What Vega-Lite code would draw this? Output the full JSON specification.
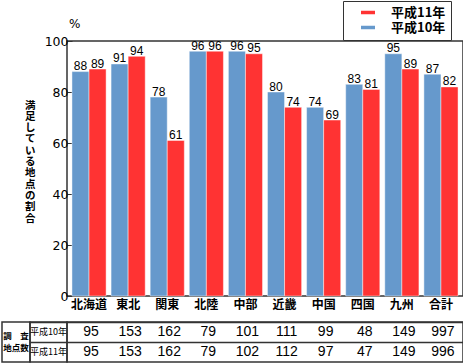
{
  "$schema": "https://vega.github.io/schema/vega-lite/v6.json",
  "background": "white",
  "padding": {"left": 1, "top": 0, "right": 0, "bottom": 0},
  "config": {
    "view": {"stroke": "#333333", "strokeWidth": 1.5},
    "font": "Noto Sans CJK JP",
    "axis": {"labelColor": "#000000", "titleColor": "#000000"}
  },
  "datasets": {
    "regions": [
      {"region": "北海道", "year": "平成10年", "pct": 88, "n": 95},
      {"region": "北海道", "year": "平成11年", "pct": 89, "n": 95},
      {"region": "東北", "year": "平成10年", "pct": 91, "n": 153},
      {"region": "東北", "year": "平成11年", "pct": 94, "n": 153},
      {"region": "関東", "year": "平成10年", "pct": 78, "n": 162},
      {"region": "関東", "year": "平成11年", "pct": 61, "n": 162},
      {"region": "北陸", "year": "平成10年", "pct": 96, "n": 79},
      {"region": "北陸", "year": "平成11年", "pct": 96, "n": 79},
      {"region": "中部", "year": "平成10年", "pct": 96, "n": 101},
      {"region": "中部", "year": "平成11年", "pct": 95, "n": 102},
      {"region": "近畿", "year": "平成10年", "pct": 80, "n": 111},
      {"region": "近畿", "year": "平成11年", "pct": 74, "n": 112},
      {"region": "中国", "year": "平成10年", "pct": 74, "n": 99},
      {"region": "中国", "year": "平成11年", "pct": 69, "n": 97},
      {"region": "四国", "year": "平成10年", "pct": 83, "n": 48},
      {"region": "四国", "year": "平成11年", "pct": 81, "n": 47},
      {"region": "九州", "year": "平成10年", "pct": 95, "n": 149},
      {"region": "九州", "year": "平成11年", "pct": 89, "n": 149},
      {"region": "合計", "year": "平成10年", "pct": 87, "n": 997},
      {"region": "合計", "year": "平成11年", "pct": 82, "n": 996}
    ],
    "years": [{"year": "平成10年"}, {"year": "平成11年"}],
    "header": [{"line": "調　査", "order": 1}, {"line": "地点数", "order": 2}]
  },
  "spacing": 10,
  "vconcat": [
    {
      "bounds": "flush",
      "spacing": 0,
      "hconcat": [
        {
          "width": 65,
          "height": 255,
          "view": {"stroke": null},
          "data": {"values": [{"k": 1}]},
          "mark": {"type": "text", "text": ""},
          "encoding": {}
        },
        {
          "width": 396,
          "height": 255,
          "data": {"name": "regions"},
          "title": {"text": "%", "anchor": "start", "frame": "group", "font": "DejaVu Sans", "fontSize": 12, "fontWeight": "normal", "offset": 4, "dx": 2, "color": "#000000"},
          "encoding": {
            "x": {
              "field": "region", "type": "nominal",
              "sort": ["北海道", "東北", "関東", "北陸", "中部", "近畿", "中国", "四国", "九州", "合計"],
              "scale": {"paddingInner": 0.127, "paddingOuter": 0.127},
              "axis": {"title": null, "labelAngle": 0, "domain": false, "ticks": false, "labelFont": "Noto Sans CJK JP", "labelFontSize": 12, "labelFontWeight": "bold", "labelPadding": 3}
            },
            "xOffset": {"field": "year", "type": "nominal", "sort": ["平成10年", "平成11年"], "scale": {"paddingInner": 0, "paddingOuter": 0}},
            "y": {
              "field": "pct", "type": "quantitative",
              "scale": {"domain": [0, 100], "nice": false},
              "axis": {
                "values": [0, 20, 40, 60, 80, 100],
                "grid": false, "domain": false,
                "tickSize": -5, "tickColor": "#333333", "tickWidth": 1,
                "labelFont": "DejaVu Sans", "labelFontSize": 12.5, "labelPadding": 4,
                "title": ["満", "足", "し", "て", "い", "る", "地", "点", "の", "割", "合"],
                "titleAngle": 0, "titleAlign": "left", "titleBaseline": "middle",
                "titleX": -42.5, "titleY": 64,
                "titleFont": "Noto Sans CJK JP", "titleFontSize": 10.5, "titleFontWeight": "bold", "titleLineHeight": 11.3
              }
            }
          },
          "layer": [
            {
              "mark": {"type": "bar", "stroke": "#ffffff", "strokeOpacity": 0.45, "strokeWidth": 1},
              "encoding": {
                "color": {
                  "field": "year", "type": "nominal",
                  "scale": {"domain": ["平成11年", "平成10年"], "range": ["#FF3333", "#6699CC"]},
                  "legend": {
                    "title": null, "orient": "none", "legendX": 341, "legendY": -40,
                    "strokeColor": "#333333", "padding": 5, "fillColor": "white",
                    "symbolType": "M-2,-0.5H2V0.5H-2Z", "symbolSize": 49, "symbolStrokeWidth": 0, "symbolOffset": 13.5,
                    "labelOffset": 16.5, "labelFont": "Noto Sans CJK JP", "labelFontSize": 13, "labelFontWeight": "bold", "labelColor": "#000000",
                    "rowPadding": 1, "labelExpr": "datum.label + '\u3000\u3000\u3000'"
                  }
                }
              }
            },
            {
              "mark": {"type": "text", "baseline": "alphabetic", "dy": -1.5, "font": "Liberation Sans", "fontSize": 12, "color": "#000000"},
              "encoding": {"text": {"field": "pct", "type": "quantitative"}}
            }
          ]
        }
      ]
    },
    {
      "bounds": "flush",
      "spacing": 0,
      "hconcat": [
        {
          "width": 28,
          "height": 40,
          "data": {"name": "header"},
          "mark": {"type": "text", "font": "Noto Sans CJK JP", "fontSize": 8.5, "fontWeight": "bold", "color": "#000000"},
          "encoding": {
            "y": {"field": "line", "type": "nominal", "sort": {"field": "order"}, "scale": {"type": "band", "paddingInner": 0, "paddingOuter": 0.8}, "axis": null},
            "text": {"field": "line", "type": "nominal"}
          }
        },
        {
          "width": 37,
          "height": 40,
          "data": {"name": "years"},
          "mark": {"type": "text", "font": "Noto Sans CJK JP", "fontSize": 9, "color": "#000000"},
          "encoding": {
            "y": {"field": "year", "type": "nominal", "sort": ["平成10年", "平成11年"], "scale": {"type": "band", "paddingInner": 0, "paddingOuter": 0},
              "axis": {"title": null, "labels": false, "ticks": false, "domain": false, "grid": true, "bandPosition": 0, "gridColor": "#333333", "gridWidth": 1.3}},
            "text": {"field": "year", "type": "nominal"}
          }
        },
        {
          "width": 396,
          "height": 40,
          "data": {"name": "regions"},
          "mark": {"type": "text", "font": "Liberation Sans", "fontSize": 14, "dx": 2, "color": "#000000"},
          "encoding": {
            "x": {"field": "region", "type": "nominal",
              "sort": ["北海道", "東北", "関東", "北陸", "中部", "近畿", "中国", "四国", "九州", "合計"],
              "scale": {"type": "band", "paddingInner": 0.127, "paddingOuter": 0.127}, "axis": null},
            "y": {"field": "year", "type": "nominal", "sort": ["平成10年", "平成11年"], "scale": {"type": "band", "paddingInner": 0, "paddingOuter": 0},
              "axis": {"title": null, "labels": false, "ticks": false, "domain": false, "grid": true, "bandPosition": 0, "gridColor": "#333333", "gridWidth": 1.3}},
            "text": {"field": "n", "type": "quantitative"}
          }
        }
      ]
    }
  ]
}
